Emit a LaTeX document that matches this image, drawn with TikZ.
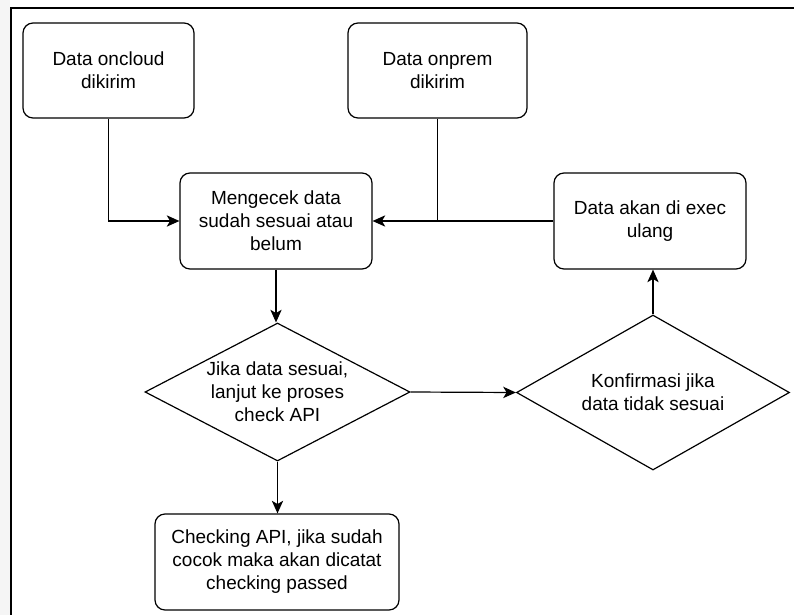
\documentclass[tikz,border=0pt]{standalone}
\usepackage{fontspec}
\setmainfont{Liberation Sans}
\usetikzlibrary{shapes.geometric,arrows.meta}
\tikzset{
  procbox/.style={draw, line width=0.9pt, rounded corners=7.5pt, inner sep=0pt, align=center},
  decision/.style={draw, line width=0.9pt, diamond, inner sep=0pt},
  lbl/.style={align=center, inner sep=0pt},
  conn/.style={line width=0.9pt, -{Stealth[length=9.5pt,width=8.5pt,inset=2.5pt]}},
  plain/.style={line width=0.9pt},
}
\begin{document}
\begin{tikzpicture}[x=0.75pt,y=-0.75pt, font=\fontsize{14.25}{17.25}\selectfont]
\useasboundingbox (0,0) rectangle (794,615);
\fill[white] (0,0) rectangle (794,615);
\fill[black!4] (0,0) rectangle (10,615);
\draw[line width=1.5pt] (11,615) -- (11,8) -- (794,8);

\node[procbox, minimum width=171*0.75pt, minimum height=95*0.75pt] (A) at (108.5,70.5) {Data oncloud\\dikirim};
\node[procbox, minimum width=179*0.75pt, minimum height=95*0.75pt] (B) at (437.5,70.5) {Data onprem\\dikirim};
\node[procbox, minimum width=192*0.75pt, minimum height=96*0.75pt] (C) at (276,221) {Mengecek data\\sudah sesuai atau\\belum};
\node[procbox, minimum width=192*0.75pt, minimum height=96*0.75pt] (D) at (650,221) {Data akan di exec\\ulang};
\node[decision, minimum width=265*0.75pt, minimum height=138*0.75pt] (E) at (277.5,392) {};
\node[lbl] (Et) at (E.center) {Jika data sesuai,\\lanjut ke proses\\check API};
\node[decision, minimum width=273*0.75pt, minimum height=155*0.75pt] (F) at (653,392.5) {};
\node[lbl] (Ft) at (F.center) {Konfirmasi jika\\data tidak sesuai};
\node[procbox, minimum width=244*0.75pt, minimum height=96*0.75pt] (G) at (277,562) {Checking API, jika sudah\\cocok maka akan dicatat\\checking passed};

\draw[conn] (A.south) |- (C.west);
\draw[conn] (D.west) -- (C.east);
\coordinate (J) at (B.south |- C.east);
\draw[plain] (B.south) -- (J);
\draw[conn] (C.south) -- (C.south |- E.north);
\draw[conn] (E.east) -- (F.west);
\draw[conn] (F.north) -- (F.north |- D.south);
\draw[conn] (E.south) -- (E.south |- G.north);
\end{tikzpicture}
\end{document}
